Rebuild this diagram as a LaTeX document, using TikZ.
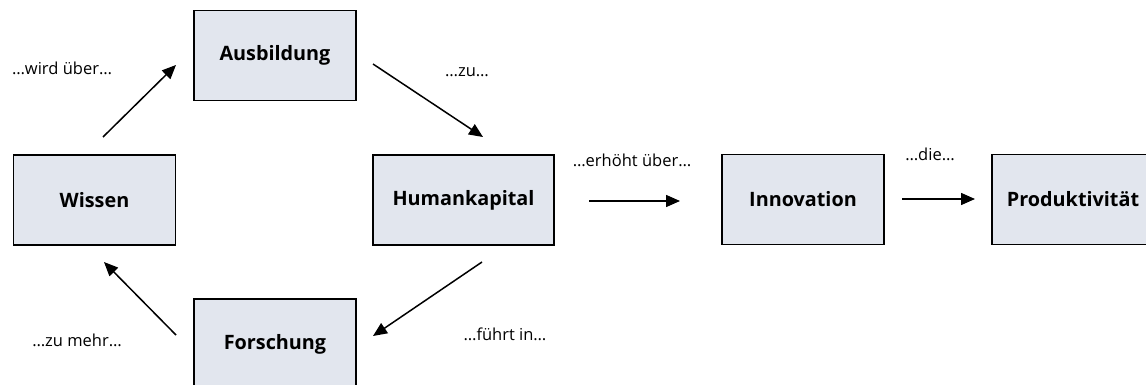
\documentclass[tikz,border=0pt]{standalone}
\usepackage{fontspec}
\setmainfont{Open Sans}
\usetikzlibrary{arrows.meta}
\definecolor{boxfill}{HTML}{E2E6EE}
\tikzset{
  box/.style={draw=black, line width=1.6pt, fill=boxfill, minimum width=162pt, minimum height=90pt, inner sep=0pt, font=\fontsize{19.8}{22}\selectfont\bfseries},
  lbl/.style={inner sep=0pt, font=\fontsize{16.5}{18}\selectfont},
  arr/.style={line width=1.5pt, -{Triangle[length=14pt,width=12pt]}}
}
\begin{document}
\begin{tikzpicture}[x=1pt,y=-1pt]
\useasboundingbox (0,0) rectangle (1146,385);
\begin{scope}
\clip (0,0) rectangle (1146,385);
\node[box] (aus) at (275,55.5) {Ausbildung};
\node[box] (wis) at (94.5,200) {Wissen};
\node[box, minimum width=181pt] (hum) at (463.5,200) {Humankapital};
\node[box] (inn) at (803,199.5) {Innovation};
\node[box] (pro) at (1073,199.5) {Produktivität};
\node[box] (for) at (275,344) {Forschung};
\end{scope}
\node[lbl] (l1) at (62,68) {…wird über…};
\node[lbl] (l2) at (467,72) {…zu…};
\node[lbl] (l3) at (632,160) {…erhöht über…};
\node[lbl] (l4) at (930,154) {…die…};
\node[lbl] (l5) at (77,340) {…zu mehr…};
\node[lbl] (l6) at (505,334) {…führt in…};
\coordinate (a1s) at (103,137); \coordinate (a1e) at (176,65);
\coordinate (a2s) at (373,64);  \coordinate (a2e) at (483,137);
\coordinate (a3s) at (482,262); \coordinate (a3e) at (373,336);
\coordinate (a4s) at (176,335); \coordinate (a4e) at (104,262);
\coordinate (a5s) at (589,201); \coordinate (a5e) at (680,201);
\coordinate (a6s) at (902,199); \coordinate (a6e) at (975,199);
\draw[arr] (a1s) -- (a1e);
\draw[arr] (a2s) -- (a2e);
\draw[arr] (a3s) -- (a3e);
\draw[arr] (a4s) -- (a4e);
\draw[arr] (a5s) -- (a5e);
\draw[arr] (a6s) -- (a6e);
\end{tikzpicture}
\end{document}
